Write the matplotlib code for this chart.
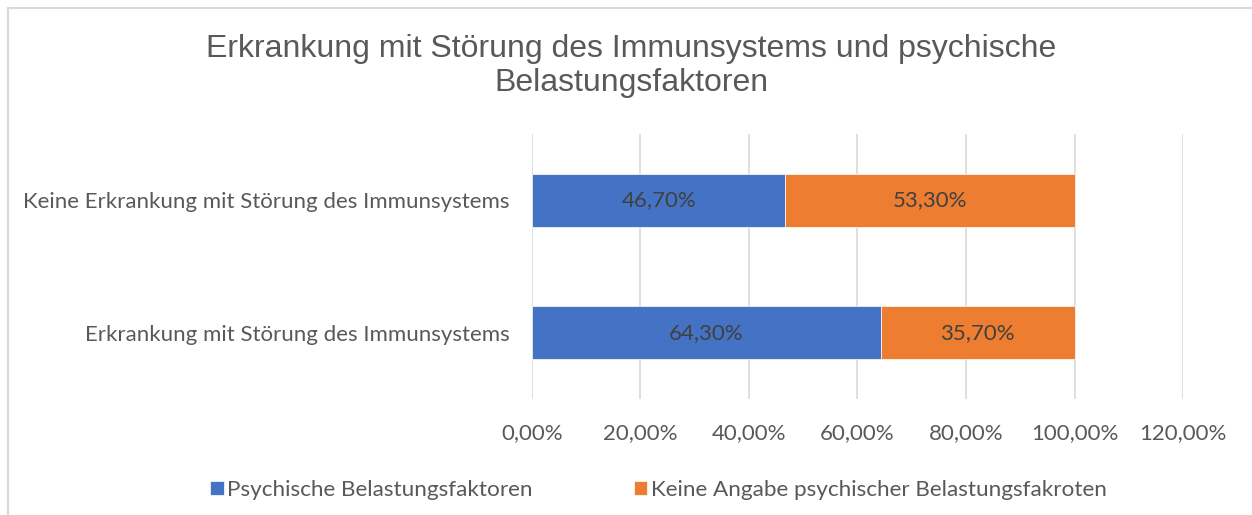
import matplotlib.pyplot as plt
from matplotlib.patches import Rectangle

# Data
categories = ['Erkrankung mit Störung des Immunsystems',
              'Keine Erkrankung mit Störung des Immunsystems']
psychische = [64.3, 46.7]
keine_angabe = [35.7, 53.3]
series_names = ['Psychische Belastungsfaktoren',
                'Keine Angabe psychischer Belastungsfakroten']
x_ticks = [0, 20, 40, 60, 80, 100, 120]

blue = '#4472C4'
orange = '#ED7D31'
grey_text = '#595959'

fig = plt.figure(figsize=(12.52, 5.15), dpi=100)
ax = fig.add_axes([0.4249, 0.2252, 0.52, 0.5146])

# chart border
fig.patches.append(Rectangle((8 / 1252, -0.1), 1.2, 1 - 8 / 515 + 0.1,
                             transform=fig.transFigure, fill=False,
                             edgecolor='#D9D9D9', linewidth=1.5))

y = range(len(categories))
b1 = ax.barh(y, psychische, height=0.4, color=blue, edgecolor='white',
             linewidth=0.5, label=series_names[0], zorder=2)
b2 = ax.barh(y, keine_angabe, left=psychische, height=0.4, color=orange,
             edgecolor='white', linewidth=0.5, label=series_names[1], zorder=2)

lab_font = dict(family='Lato', size=16)
for bars in (b1, b2):
    for r in bars:
        val = r.get_width()
        ax.text(r.get_x() + val / 2, r.get_y() + r.get_height() / 2,
                f'{val:.2f}%'.replace('.', ','), ha='center', va='center',
                color='#404040', **lab_font)

ax.set_xlim(0, 120)
ax.set_ylim(-0.5, 1.5)
ax.set_xticks(x_ticks)
ax.set_xticklabels([f'{t:.2f}%'.replace('.', ',') for t in x_ticks],
                   color=grey_text, **lab_font)
ax.set_yticks(list(y))
ax.set_yticklabels(categories, color=grey_text, **lab_font)
ax.tick_params(axis='y', length=0, pad=16)
ax.tick_params(axis='x', length=0, pad=17)
ax.grid(axis='x', color='#D9D9D9', linewidth=1.2, zorder=0)
for s in ax.spines.values():
    s.set_visible(False)

fig.text(0.504, 0.81, 'Erkrankung mit Störung des Immunsystems und psychische\nBelastungsfaktoren',
         ha='center', va='bottom', fontsize=23, family='Liberation Sans',
         color=grey_text, linespacing=1.15)

fig.legend(handles=[b1, b2], loc='center', bbox_to_anchor=(0.526, 0.048), ncol=2,
           frameon=False, handlelength=0.6, handleheight=0.6,
           handletextpad=0.15, columnspacing=4.5,
           prop={'family': 'Lato', 'size': 16.2}, labelcolor=grey_text)

fig.savefig('out.png', dpi=100)
